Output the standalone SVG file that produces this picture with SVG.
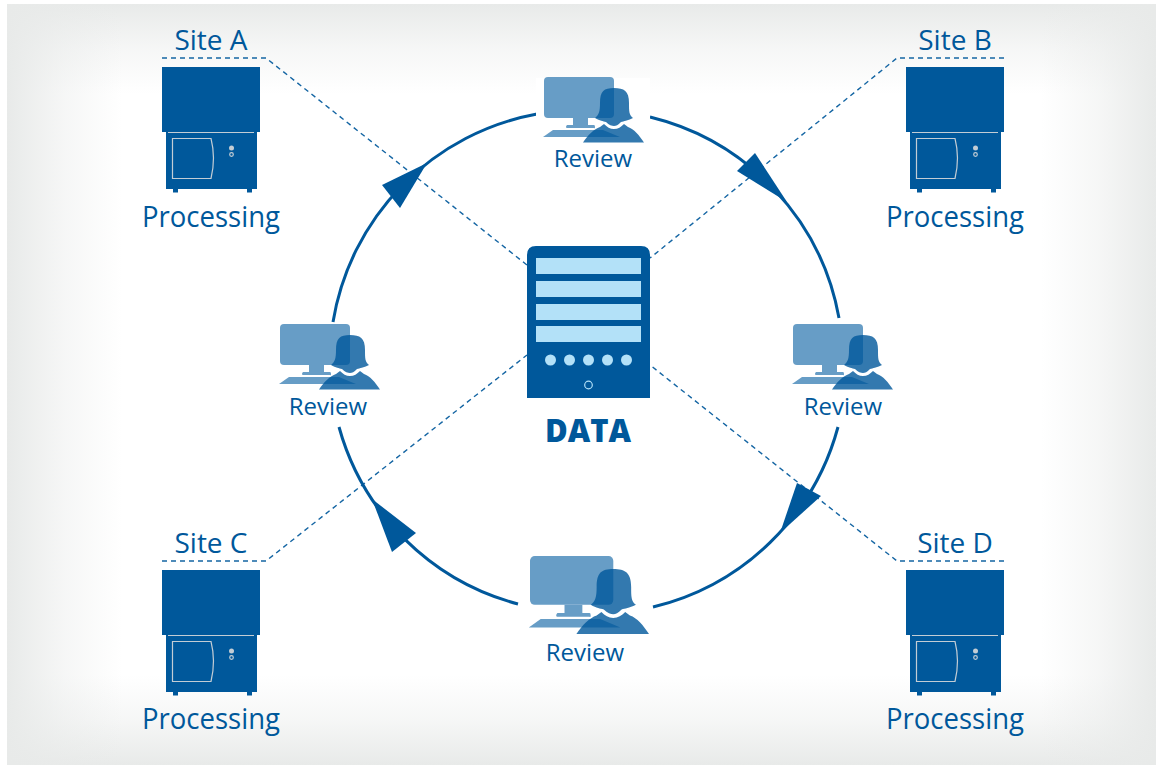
<svg xmlns="http://www.w3.org/2000/svg" width="1156" height="765" viewBox="0 0 1156 765">
<style>
text{font-family:"Open Sans","Noto Sans","Liberation Sans",sans-serif;fill:#00589b;text-anchor:middle}
.big{font-size:29px}.small{font-size:24px}.mid{font-size:28px}
.dash{fill:none;stroke:#1465a3;stroke-width:1.4;stroke-dasharray:5 4}
.arc{fill:none;stroke:#00589b;stroke-width:3}
.blue{fill:#00589b}
.gl{fill:none;stroke:#c3cdd5;stroke-width:1.2}
</style>
<defs>
<linearGradient id="gt" x1="0" y1="0" x2="0" y2="1"><stop offset="0" stop-color="#e8eae9"/><stop offset=".5" stop-color="#e8eae9" stop-opacity=".4"/><stop offset="1" stop-color="#e8eae9" stop-opacity="0"/></linearGradient>
<linearGradient id="gb" x1="0" y1="1" x2="0" y2="0"><stop offset="0" stop-color="#e8eae9"/><stop offset=".5" stop-color="#e8eae9" stop-opacity=".4"/><stop offset="1" stop-color="#e8eae9" stop-opacity="0"/></linearGradient>
<linearGradient id="gl" x1="0" y1="0" x2="1" y2="0"><stop offset="0" stop-color="#e8eae9"/><stop offset=".5" stop-color="#e8eae9" stop-opacity=".4"/><stop offset="1" stop-color="#e8eae9" stop-opacity="0"/></linearGradient>
<linearGradient id="gr" x1="1" y1="0" x2="0" y2="0"><stop offset="0" stop-color="#e8eae9"/><stop offset=".5" stop-color="#e8eae9" stop-opacity=".4"/><stop offset="1" stop-color="#e8eae9" stop-opacity="0"/></linearGradient>
<g id="machine">
<rect class="blue" x="162" y="67" width="98" height="65"/>
<rect class="blue" x="166" y="132" width="91" height="57"/>
<rect class="blue" x="173" y="189" width="5" height="3.5"/>
<rect class="blue" x="247" y="189" width="5" height="3.5"/>
<path d="M168 132.500H254" class="gl"/>
<path d="M172.500 138.500H211Q216 158 211 178.500H172.500Z" class="gl"/>
<circle cx="231.500" cy="148" r="2.500" fill="#c3cdd5"/>
<circle cx="231.500" cy="154.500" r="1.800" class="gl"/>
</g>
<g id="reviewer">
<rect x="0" y="0" width="70" height="41" rx="4" fill="#679dc6"/>
<path d="M29 41H44V48H50Q51 48 51 50T50 51H23Q22 51 22 50T23 48H29Z" fill="#679dc6"/>
<path d="M-1 60L9 53H59L76 60Z" fill="#679dc6"/>
<path d="M51 41C55 38 56 34 56 26C56 14 60 11 70 11C80 11 85 14 85 26C85 34 85 38 89 41C83 44 80 44 77 45C74 48 72 49 70 49C68 49 65 48 62 45C59 44 56 44 51 41Z" fill="#00589b" opacity=".8"/>
<path d="M39 65.500C44 58 50 52 56 50L60 47C63 50 66 52 70 52C74 52 77 50 80 47L84 50C90 52 95 58 100 65.500Z" fill="#00589b" opacity=".8"/>
</g>
</defs>
<g id="background">
<rect x="7" y="4" width="1149" height="761" fill="#fff"/>
<rect x="7" y="4" width="1149" height="90" fill="url(#gt)"/>
<rect x="7" y="675" width="1149" height="90" fill="url(#gb)"/>
<rect x="7" y="4" width="115" height="761" fill="url(#gl)"/>
<rect x="1041" y="4" width="115" height="761" fill="url(#gr)"/>
</g>
<g id="connectors">
<path class="dash" d="M162 58H266L527 265"/>
<path class="dash" d="M1004 58H897L650 258"/>
<path class="dash" d="M162 561H266L527 355"/>
<path class="dash" d="M1004 561H897L650 365"/>
<path class="arc" d="M333 322A253 253 0 0 1 537 114"/>
<path class="arc" d="M650 117A253 253 0 0 1 839 318"/>
<path class="arc" d="M838 427A253 253 0 0 1 653 607"/>
<path class="arc" d="M518 604A253 253 0 0 1 339 427"/>
<polygon class="blue" points="427,163 382,185 400,208"/>
<polygon class="blue" points="787,202 755,153 737,171"/>
<polygon class="blue" points="780,533 797,483 821,496"/>
<polygon class="blue" points="372,499 392,552 416,533"/>
</g>
<g id="site-a"><use href="#machine"/><text class="mid" x="211" y="50">Site A</text><text class="big" x="211" y="227" textLength="138" lengthAdjust="spacingAndGlyphs">Processing</text></g>
<g id="site-b"><use href="#machine" x="744"/><text class="mid" x="955" y="50">Site B</text><text class="big" x="955" y="227" textLength="138" lengthAdjust="spacingAndGlyphs">Processing</text></g>
<g id="site-c"><use href="#machine" y="503"/><text class="mid" x="211" y="553">Site C</text><text class="big" x="211" y="729" textLength="138" lengthAdjust="spacingAndGlyphs">Processing</text></g>
<g id="site-d"><use href="#machine" x="744" y="503"/><text class="mid" x="955" y="553">Site D</text><text class="big" x="955" y="729" textLength="138" lengthAdjust="spacingAndGlyphs">Processing</text></g>
<g id="review-top"><rect x="536" y="78" width="114" height="92" fill="#fff"/><use href="#reviewer" transform="translate(544 77)"/><text class="small" x="593" y="167">Review</text></g>
<g id="review-right"><use href="#reviewer" transform="translate(793 324)"/><text class="small" x="843" y="415">Review</text></g>
<g id="review-left"><use href="#reviewer" transform="translate(280 324)"/><text class="small" x="328" y="415">Review</text></g>
<g id="review-bottom"><use href="#reviewer" transform="translate(530 556) scale(1.190)"/><text class="small" x="585" y="661">Review</text></g>
<g id="data">
<path class="blue" d="M527 398V255Q527 246 536 246H641Q650 246 650 255V398Z"/>
<g fill="#b3e1f8"><rect x="536" y="258" width="105" height="16"/><rect x="536" y="281" width="105" height="16"/><rect x="536" y="304" width="105" height="16"/><rect x="536" y="326" width="105" height="16"/>
<circle cx="550.500" cy="360" r="5.500"/><circle cx="569.500" cy="360" r="5.500"/><circle cx="588.500" cy="360" r="5.500"/><circle cx="607.500" cy="360" r="5.500"/><circle cx="626.500" cy="360" r="5.500"/></g>
<circle cx="588.500" cy="385" r="3.800" fill="none" stroke="#b3e1f8" stroke-width="1.200"/>
<text x="588" y="442" font-size="31" style="font-weight:800">DATA</text>
</g>
</svg>
